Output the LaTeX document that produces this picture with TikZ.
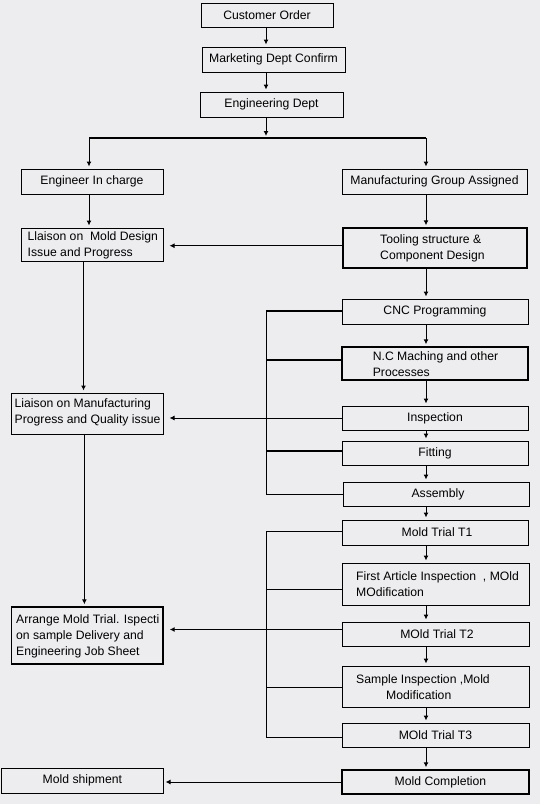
\documentclass[tikz,border=0pt]{standalone}
\usepackage{fontspec}
\setmainfont{Liberation Sans}
\usetikzlibrary{arrows.meta}
\definecolor{bg}{RGB}{237,237,240}
\begin{document}
\begin{tikzpicture}[x=1pt,y=-1pt,
  fnt/.style={font=\fontsize{12.2}{16}\selectfont},
  box/.style={draw, line width=1pt, inner sep=0pt, fnt},
  heavy/.style={line width=1.4pt},
  txt/.style={anchor=west, align=left, inner sep=0pt, fnt},
  arr/.style={-{Latex[length=5pt,width=5pt]}, line width=1pt, shorten >=2pt},
  harr/.style={-{Latex[length=5pt,width=5pt]}, line width=1pt, shorten >=6pt},
  ln/.style={line width=1pt},
  thk/.style={line width=2pt}]
\fill[bg] (0,0) rectangle (540,804);
\useasboundingbox (0,0) rectangle (540,804);

% column coordinates
\coordinate (cM) at (266,0);
\coordinate (cR) at (426,0);
\coordinate (cL) at (89,0);
\coordinate (cL2) at (83.5,0);
\coordinate (cL3) at (84.4,0);

% boxes
\node[box, minimum width=132pt, minimum height=24pt] (co) at (267,15) {Customer Order};
\node[box, minimum width=143pt, minimum height=25pt] (mdc) at (273.5,59.5) {Marketing Dept Confirm};
\node[box, minimum width=143pt, minimum height=25pt] (ed) at (271.5,104.5) {Engineering Dept};
\node[box, minimum width=142pt, minimum height=25pt] (eic) at (92,181.5) {Engineer In charge};
\node[box, minimum width=185pt, minimum height=25pt] (mga) at (434.5,181.5) {Manufacturing Group Assigned};
\node[box, minimum width=142pt, minimum height=33pt] (lla) at (92,244.5) {};
\node[box, heavy, minimum width=184pt, minimum height=40pt] (tool) at (435,248) {};
\node[box, minimum width=186pt, minimum height=25pt] (cnc) at (435,311.5) {CNC Programming\hspace{12pt}};
\node[box, heavy, minimum width=186pt, minimum height=33pt] (nc) at (435,363.5) {};
\node[box, minimum width=151.6pt, minimum height=41pt] (lmf) at (87.2,413.5) {};
\node[box, minimum width=186pt, minimum height=24pt] (insp) at (435,418) {Inspection};
\node[box, minimum width=186pt, minimum height=24pt] (fit) at (435,453) {Fitting};
\node[box, minimum width=186pt, minimum height=24pt] (asm) at (436,494) {\hspace{4pt}Assembly};
\node[box, minimum width=186pt, minimum height=25pt] (t1) at (435,532.5) {\hspace{4pt}Mold Trial T1};
\node[box, minimum width=187pt, minimum height=42pt] (fai) at (435.5,584) {};
\node[box, heavy, minimum width=151.6pt, minimum height=57pt] (arr) at (87.2,635.5) {};
\node[box, minimum width=187pt, minimum height=24pt] (t2) at (435.5,634) {\hspace{3pt}MOld Trial T2};
\node[box, minimum width=187pt, minimum height=41pt] (sam) at (435.5,686.5) {};
\node[box, minimum width=187pt, minimum height=24pt] (t3) at (435.5,735) {MOld Trial T3\hspace{6pt}};
\node[box, heavy, minimum width=187pt, minimum height=24pt] (mc) at (435.5,782) {\hspace{10pt}Mold Completion};
\node[box, minimum width=161.3pt, minimum height=25pt] (ms) at (82.4,780.5) {Mold shipment\hspace{4pt}};

% multi-line texts
\node[txt] (llat) at (27.5,245.5) {Llaison on \ Mold Design\\Issue and Progress};
\node[txt] (toolt) at (380,248.7) {Tooling structure \&\\Component Design};
\node[txt] (nct) at (372.6,363.7) {N.C Maching and other\\Processes};
\node[txt] (lmft) at (14.5,412.8) {Liaison on Manufacturing\\Progress and Quality issue};
\node[txt] (fait) at (356,584.5) {First Article Inspection \ , MOld\\MOdification};
\node[txt] (arrt) at (16,636.8) {Arrange Mold Trial. Ispecti\\on sample Delivery and\\Engineering Job Sheet};
\node[txt] (samt) at (356,686.7) {Sample Inspection ,Mold\\\hspace*{30pt}Modification};

% top chain
\draw[arr] (co.south -| cM) -- (mdc.north -| cM);
\draw[arr] (mdc.south -| cM) -- (ed.north -| cM);
\coordinate (br) at (266,138);
\coordinate (brL) at (89,138);
\coordinate (brR) at (426,138);
\draw[arr] (ed.south -| cM) -- (br);
\draw[thk] (brL) -- (brR);
\draw[arr] (brL) -- (eic.north -| brL);
\draw[arr] (brR) -- (mga.north -| brR);

% left column
\draw[arr] (eic.south -| cL) -- (lla.north -| cL);
\draw[arr] (lla.south -| cL2) -- (lmf.north -| cL2);
\draw[arr] (lmf.south -| cL3) -- (arr.north -| cL3);

% right column
\draw[arr] (mga.south -| cR) -- (tool.north -| cR);
\draw[arr] (tool.south -| cR) -- (cnc.north -| cR);
\draw[arr] (cnc.south -| cR) -- (nc.north -| cR);
\draw[arr] (nc.south -| cR) -- (insp.north -| cR);
\draw[arr] (insp.south -| cR) -- (fit.north -| cR);
\draw[arr] (fit.south -| cR) -- (asm.north -| cR);
\draw[arr] (asm.south -| cR) -- (t1.north -| cR);
\draw[arr] (t1.south -| cR) -- (fai.north -| cR);
\draw[arr] (fai.south -| cR) -- (t2.north -| cR);
\draw[arr] (t2.south -| cR) -- (sam.north -| cR);
\draw[arr] (sam.south -| cR) -- (t3.north -| cR);
\draw[arr] (t3.south -| cR) -- (mc.north -| cR);

% horizontal arrows to the left
\draw[harr] (tool.west |- 0,245.7) -- (lla.east |- 0,245.7);
\draw[harr] (insp.west |- 0,418) -- (lmf.east |- 0,418);
\draw[harr] (t2.west |- 0,629.5) -- (arr.east |- 0,629.5);
\draw[harr, shorten >=2pt] (mc.west |- 0,782) -- (ms.east |- 0,782);

% bracket 1
\draw[ln] (cnc.west |- 0,311) -- (266,311) -- (266,494) -- (asm.west |- 0,494);
\draw[thk] (cnc.west |- 0,311) -- (266,311);
\draw[thk] (nc.west |- 0,360) -- (266,360);
\draw[thk] (fit.west |- 0,451) -- (266,451);

% bracket 2
\draw[ln] (t1.west |- 0,531) -- (266,531) -- (266,737) -- (t3.west |- 0,737);
\draw[ln] (fai.west |- 0,589) -- (266,589);
\draw[ln] (sam.west |- 0,687) -- (266,687);
\end{tikzpicture}
\end{document}
